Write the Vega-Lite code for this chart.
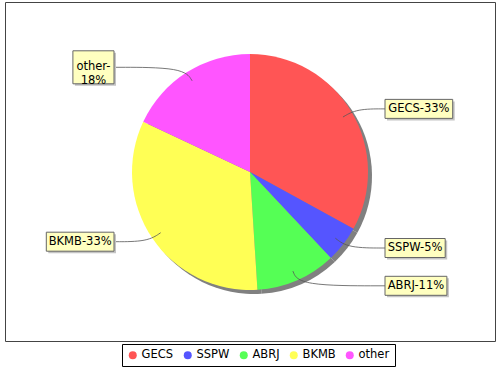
{
  "$schema": "https://vega.github.io/schema/vega-lite/v6.json",
  "width": 490,
  "height": 339,
  "autosize": "none",
  "padding": {"left": 5, "top": 2, "right": 5, "bottom": 29},
  "background": "white",
  "config": {"view": {"stroke": "#444444", "strokeWidth": 1}, "font": "DejaVu Sans"},
  "data": {
    "values": [
      {"name": "GECS", "value": 33, "label": "GECS-33%"},
      {"name": "SSPW", "value": 5, "label": "SSPW-5%"},
      {"name": "ABRJ", "value": 11, "label": "ABRJ-11%"},
      {"name": "BKMB", "value": 33, "label": "BKMB-33%"},
      {"name": "other", "value": 18, "label": "other-\n18%"}
    ]
  },
  "transform": [
    {"window": [{"op": "row_number", "as": "order"}]},
    {"joinaggregate": [{"op": "sum", "field": "value", "as": "total"}]},
    {"window": [{"op": "sum", "field": "value", "as": "cum"}], "sort": [{"field": "order"}], "frame": [null, 0]},
    {"calculate": "(datum.cum - datum.value/2)/datum.total*2*PI", "as": "mid"},
    {"calculate": "sin(datum.mid) >= 0 ? 1 : -1", "as": "side"},
    {"calculate": "124*cos(datum.mid)", "as": "ly"},
    {"calculate": "split(datum.label, '\\n')", "as": "lines"},
    {"calculate": "datum.lines[0]", "as": "l0"},
    {"calculate": "length(replace(datum.l0, regexp('[^GMW%]', 'g'), ''))", "as": "nw"},
    {"calculate": "length(replace(datum.l0, regexp('[^Jtr-]', 'g'), ''))", "as": "nn"},
    {"calculate": "10*datum.nw + 4.2*datum.nn + 7.5*(length(datum.l0) - datum.nw - datum.nn) + 6", "as": "bw"},
    {"calculate": "14*length(datum.lines) + 5", "as": "bh"},
    {"calculate": "datum.side > 0 ? 135 : -136 - datum.bw", "as": "bx0"},
    {"calculate": "datum.bx0 + datum.bw", "as": "bx1"},
    {"calculate": "datum.ly + datum.bh/2", "as": "by0"},
    {"calculate": "datum.ly - datum.bh/2", "as": "by1"},
    {"calculate": "(datum.bx0 + datum.bx1)/2", "as": "tx"}
  ],
  "layer": [
    {
      "mark": {"type": "arc", "radius": 118, "xOffset": 4, "yOffset": 4, "fill": "#808080"},
      "encoding": {
        "theta": {"field": "value", "type": "quantitative", "stack": true},
        "order": {"field": "order", "type": "quantitative"},
        "x": {"datum": 0, "type": "quantitative", "scale": {"domain": [-245, 245], "nice": false}, "axis": null},
        "y": {"datum": 0, "type": "quantitative", "scale": {"domain": [-169, 170], "nice": false}, "axis": null}
      }
    },
    {
      "mark": {"type": "arc", "radius": 118},
      "encoding": {
        "theta": {"field": "value", "type": "quantitative", "stack": true},
        "order": {"field": "order", "type": "quantitative"},
        "x": {"datum": 0, "type": "quantitative", "scale": {"domain": [-245, 245], "nice": false}, "axis": null},
        "y": {"datum": 0, "type": "quantitative", "scale": {"domain": [-169, 170], "nice": false}, "axis": null},
        "color": {
          "field": "name",
          "type": "nominal",
          "sort": ["GECS", "SSPW", "ABRJ", "BKMB", "other"],
          "scale": {"domain": ["GECS", "SSPW", "ABRJ", "BKMB", "other"], "range": ["#FF5555", "#5555FF", "#55FF55", "#FFFF55", "#FF55FF"]},
          "legend": {
            "orient": "none",
            "legendX": 117,
            "legendY": 342,
            "direction": "horizontal",
            "title": null,
            "symbolType": "circle",
            "symbolSize": 64,
            "symbolStrokeWidth": 0,
            "labelFontSize": 11.5,
            "labelFont": "DejaVu Sans",
            "labelColor": "#000000",
            "labelOffset": 3,
            "columnPadding": 8,
            "strokeColor": "#000000",
            "fillColor": "#ffffff",
            "padding": 5
          }
        }
      }
    },
    {
      "transform": [
        {"calculate": "108*sin(datum.mid)", "as": "p0"},
        {"calculate": "124*sin(datum.mid)", "as": "p1"},
        {"calculate": "datum.side > 0 ? 135 : -136", "as": "p2"},
        {"fold": ["p0", "p1", "p2"], "as": ["pt", "px"]},
        {"calculate": "datum.pt == 'p0' ? 108*cos(datum.mid) : datum.ly", "as": "py"},
        {"calculate": "indexof(['p0','p1','p2'], datum.pt)", "as": "pidx"}
      ],
      "mark": {"type": "line", "interpolate": "basis", "stroke": "#555555", "strokeWidth": 0.8},
      "encoding": {
        "x": {"field": "px", "type": "quantitative", "scale": {"domain": [-245, 245], "nice": false}, "axis": null},
        "y": {"field": "py", "type": "quantitative", "scale": {"domain": [-169, 170], "nice": false}, "axis": null},
        "detail": {"field": "name"},
        "order": {"field": "pidx", "type": "quantitative"}
      }
    },
    {
      "mark": {"type": "rect", "fill": "#c4c4c4", "xOffset": 2, "x2Offset": 2, "yOffset": 2, "y2Offset": 2},
      "encoding": {
        "x": {"field": "bx0", "type": "quantitative", "scale": {"domain": [-245, 245], "nice": false}, "axis": null},
        "x2": {"field": "bx1"},
        "y": {"field": "by0", "type": "quantitative", "scale": {"domain": [-169, 170], "nice": false}, "axis": null},
        "y2": {"field": "by1"}
      }
    },
    {
      "mark": {"type": "rect", "fill": "#FFFFC0", "stroke": "#666666", "strokeWidth": 1},
      "encoding": {
        "x": {"field": "bx0", "type": "quantitative", "scale": {"domain": [-245, 245], "nice": false}, "axis": null},
        "x2": {"field": "bx1"},
        "y": {"field": "by0", "type": "quantitative", "scale": {"domain": [-169, 170], "nice": false}, "axis": null},
        "y2": {"field": "by1"}
      }
    },
    {
      "mark": {"type": "text", "font": "DejaVu Sans", "fontSize": 11.5, "color": "#000000", "align": "center", "baseline": "middle", "lineHeight": 14},
      "encoding": {
        "x": {"field": "tx", "type": "quantitative", "scale": {"domain": [-245, 245], "nice": false}, "axis": null},
        "y": {"field": "ly", "type": "quantitative", "scale": {"domain": [-169, 170], "nice": false}, "axis": null},
        "text": {"field": "lines"}
      }
    }
  ]
}
